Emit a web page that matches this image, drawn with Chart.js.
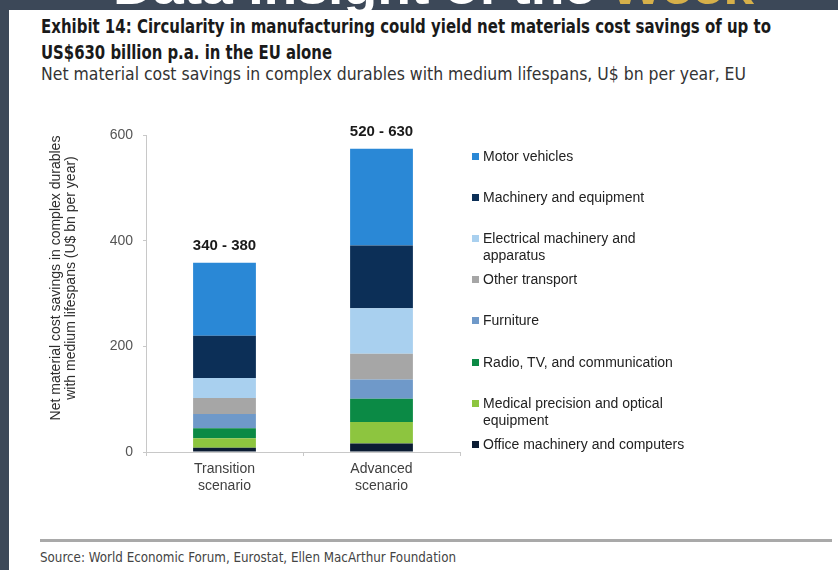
<!DOCTYPE html>
<html><head><meta charset="utf-8">
<script src="https://cdn.jsdelivr.net/npm/chart.js@4.4.1/dist/chart.umd.min.js"></script>
<style>
html,body{margin:0;padding:0;width:838px;height:570px;overflow:hidden;background:#3c4858;position:relative;}
#bandText{position:absolute;left:113px;top:-36px;white-space:nowrap;font:bold 48px "Liberation Sans",Arial,sans-serif;color:#fff;line-height:48px;transform-origin:0 0;z-index:1;}
#bandText span{color:#d6b04a;}
#panel{position:absolute;left:9px;top:10px;width:829px;height:560px;background:#fff;z-index:2;}
.t{position:absolute;white-space:nowrap;transform-origin:0 0;line-height:1;z-index:3;color:#1a1a1a;}
.cond{font-family:"Liberation Sans Narrow","DejaVu Sans Condensed","Roboto Condensed","Liberation Sans",sans-serif;font-stretch:condensed;}
#rule{position:absolute;left:40px;top:539px;width:792px;height:3px;background:#a9a9a9;z-index:3;}
#chartWrap{position:absolute;left:0;top:0;width:838px;height:570px;z-index:4;}
#ytitle{position:absolute;z-index:5;font:14px "Liberation Sans",Arial,sans-serif;color:#2e2e2e;text-align:center;line-height:15px;white-space:nowrap;}
#legend{position:absolute;left:0;top:0;z-index:5;}
.li{position:absolute;font:14px "Liberation Sans",Arial,sans-serif;color:#222;line-height:16.7px;width:215px;}
.mk{position:absolute;width:7px;height:7px;}
</style></head>
<body>
<div id="bandText">Data Insight of the <span>Week</span></div>
<div id="panel"></div>
<div class="t cond" id="t1" style="left:41px;top:17px;font-size:19px;font-weight:bold;">Exhibit 14: Circularity in manufacturing could yield net materials cost savings of up to</div>
<div class="t cond" id="t2" style="left:41px;top:42.5px;font-size:19px;font-weight:bold;">US$630 billion p.a. in the EU alone</div>
<div class="t cond" id="t3" style="left:41px;top:66px;font-size:17.5px;color:#333;">Net material cost savings in complex durables with medium lifespans, U$ bn per year, EU</div>
<div id="rule"></div>
<div class="t cond" id="t4" style="left:40px;top:550px;font-size:14px;color:#444;">Source: World Economic Forum, Eurostat, Ellen MacArthur Foundation</div>
<div id="chartWrap"><canvas id="c" width="838" height="570"></canvas></div>
<div id="ytitle"><div id="yl1">Net material cost savings in complex durables</div><div id="yl2">with medium lifespans (U$ bn per year)</div></div>
<div id="legend"></div>
<script>
const scenarios = [["Transition","scenario"],["Advanced","scenario"]];
const rangeLabels = ["340 - 380","520 - 630"];
const sectors = ["Motor vehicles","Machinery and equipment","Electrical machinery and apparatus","Other transport","Furniture","Radio, TV, and communication","Medical precision and optical equipment","Office machinery and computers"];
const transition = [138, 80, 38, 30, 27, 19, 18, 8];
const advanced = [183, 119, 86, 49, 36, 44, 41, 16];
const colors = ["#2a88d6","#0c2f57","#a9d0ef","#a6a6a6","#6f99c9","#0b8a45","#8dc53f","#0b1c33"];
const yTicks = [0, 200, 400, 600];

function fit(id, w){
  const el = document.getElementById(id);
  const r = el.getBoundingClientRect().width;
  el.style.transform = 'scaleX(' + (w / r) + ')';
}
fit('bandText', 641);
fit('t1', 730);
fit('t2', 291);
fit('t3', 705);
fit('t4', 416);

// y axis title
(function(){
  const yt = document.getElementById('ytitle');
  const w = 320, h = 30;
  yt.style.width = w + 'px'; yt.style.height = h + 'px';
  yt.style.left = (62.5 - w/2) + 'px';
  yt.style.top = (278 - h/2) + 'px';
  yt.style.transform = 'rotate(-90deg)';
  yt.style.transformOrigin = '50% 50%';
})();

// legend
(function(){
  const lg = document.getElementById('legend');
  sectors.forEach((s, i) => {
    const yc = 156 + 41.2 * i;
    const mk = document.createElement('div');
    mk.className = 'mk';
    mk.style.left = '472px'; mk.style.top = (yc - 3.5) + 'px';
    mk.style.background = colors[i];
    lg.appendChild(mk);
    const li = document.createElement('div');
    li.className = 'li';
    li.style.left = '483px'; li.style.top = (yc - 8.35) + 'px';
    li.textContent = s;
    lg.appendChild(li);
  });
})();

const datasets = [];
for (let i = sectors.length - 1; i >= 0; i--) {
  datasets.push({
    label: sectors[i],
    data: [transition[i], advanced[i]],
    backgroundColor: colors[i],
    borderWidth: 0,
    stack: 's',
    barPercentage: 0.4,
    categoryPercentage: 1.0
  });
}

const rangePlugin = {
  id: 'rangeLabels',
  afterDatasetsDraw(chart) {
    const ctx = chart.ctx;
    const xs = chart.scales.x, ys = chart.scales.y;
    ctx.save();
    ctx.font = 'bold 15px "Liberation Sans", Arial, sans-serif';
    ctx.fillStyle = '#1a1a1a';
    ctx.textAlign = 'center';
    ctx.textBaseline = 'middle';
    rangeLabels.forEach((lab, i) => {
      const tot = chart.data.datasets.reduce((a, d) => a + d.data[i], 0);
      ctx.fillText(lab, xs.getPixelForValue(i), ys.getPixelForValue(tot) - 16.5);
    });
    ctx.restore();
  }
};

new Chart(document.getElementById('c'), {
  type: 'bar',
  data: { labels: scenarios, datasets },
  options: {
    responsive: false,
    animation: false,
    events: [],
    layout: { padding: { left: 0, top: 135, right: 378, bottom: 0 } },
    plugins: { legend: { display: false }, tooltip: { enabled: false } },
    scales: {
      x: {
        stacked: true,
        afterFit(s) { s.height = 118; },
        grid: { drawOnChartArea: false, drawTicks: true, tickLength: 4, color: '#c8c8c8', offset: true },
        border: { display: true, color: '#c8c8c8', width: 1 },
        ticks: { color: '#404040', padding: 5, font: { family: '"Liberation Sans", Arial, sans-serif', size: 14, lineHeight: 1.22 } }
      },
      y: {
        stacked: true,
        min: 0, max: 600,
        afterFit(s) { s.width = 146; },
        afterBuildTicks(s) { s.ticks = yTicks.map(v => ({ value: v })); },
        grid: { drawOnChartArea: false, drawTicks: true, tickLength: 3, color: '#c8c8c8' },
        border: { display: true, color: '#c8c8c8', width: 1 },
        ticks: { color: '#555', padding: 10, font: { family: '"Liberation Sans", Arial, sans-serif', size: 14 } }
      }
    }
  },
  plugins: [rangePlugin]
});
</script>
</body></html>
